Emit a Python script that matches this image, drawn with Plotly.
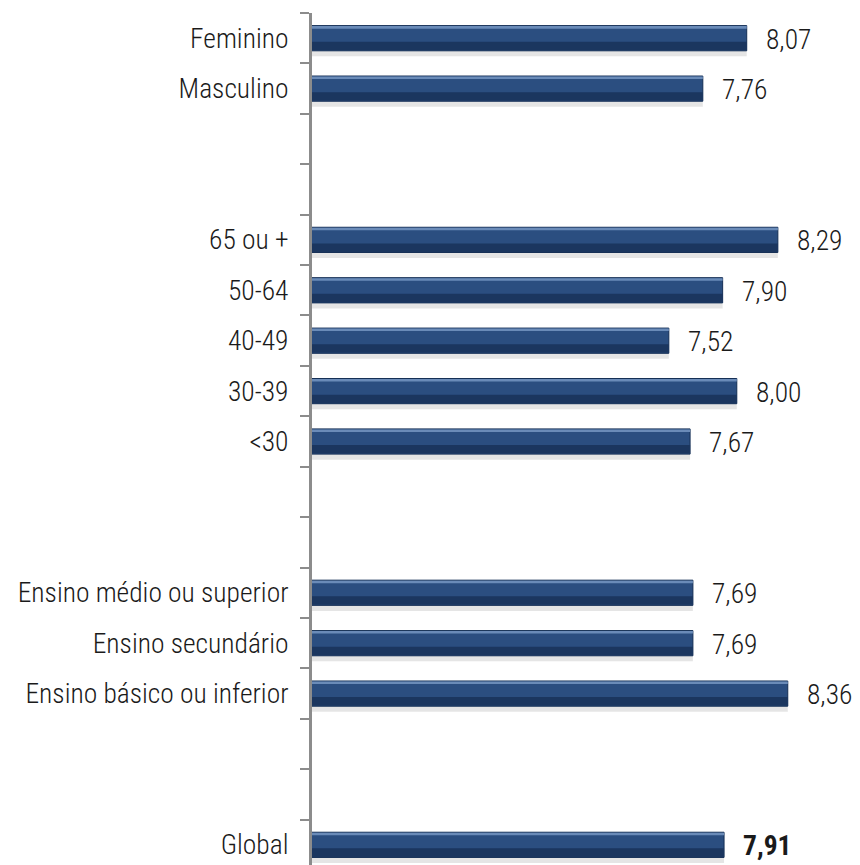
import plotly.graph_objects as go

# categories top to bottom; blank rows are spacers between groups
categories = ["Feminino", "Masculino", " ", "  ",
              "65 ou +", "50-64", "40-49", "30-39", "<30", "   ", "    ",
              "Ensino médio ou superior", "Ensino secundário", "Ensino básico ou inferior",
              "     ", "      ", "Global"]
values = [8.07, 7.76, None, None,
          8.29, 7.90, 7.52, 8.00, 7.67, None, None,
          7.69, 7.69, 8.36,
          None, None, 7.91]

FONT = "Roboto Condensed, Liberation Sans, sans-serif"

fig = go.Figure()


def bar_layer(width, offset, color, line=None, skip=True):
    fig.add_trace(go.Bar(
        y=categories, x=values, orientation="h",
        width=width, offset=offset,
        marker=dict(color=color, line=line or dict(width=0)),
        hoverinfo="skip" if skip else None, showlegend=False,
    ))


# soft shadow, main body, light top edge, darker lower half
bar_layer(0.58, -0.22, "rgba(170,170,170,0.3)")
bar_layer(0.5, -0.25, "#2b4e80", dict(color="#152f55", width=1), skip=False)
bar_layer(0.05, -0.24, "#6a8bb8")
bar_layer(0.17, 0.07, "#1b365f")

# value labels
for cat, val in zip(categories, values):
    if val is None:
        continue
    txt = f"{val:.2f}".replace(".", ",")
    if cat == "Global":
        txt = f"<b>{txt}</b>"
    fig.add_annotation(x=val, y=cat, text=txt, showarrow=False,
                       xanchor="left", xshift=17, yshift=-1,
                       font=dict(family=FONT, size=27.5, color="#1a1a1a", weight=300))

# page body has an 8px margin, so the figure is a bit smaller than the window
fig.update_layout(
    width=852, height=857,
    margin=dict(l=304, r=0, t=5, b=0),
    barmode="overlay",
    plot_bgcolor="white", paper_bgcolor="white",
    font=dict(family=FONT, size=27.5, color="#1a1a1a", weight=300),
)
fig.update_xaxes(range=[5, 8.87], visible=False)
fig.update_yaxes(
    type="category", categoryorder="array", categoryarray=categories,
    range=[16.4, -0.5],
    showline=True, linecolor="#8c8c8c", linewidth=3,
    ticks="outside", tickson="boundaries", ticklen=9, tickcolor="#8c8c8c", tickwidth=2,
    ticklabelstandoff=15, showgrid=False, zeroline=False,
)

fig.write_html("out.html")
